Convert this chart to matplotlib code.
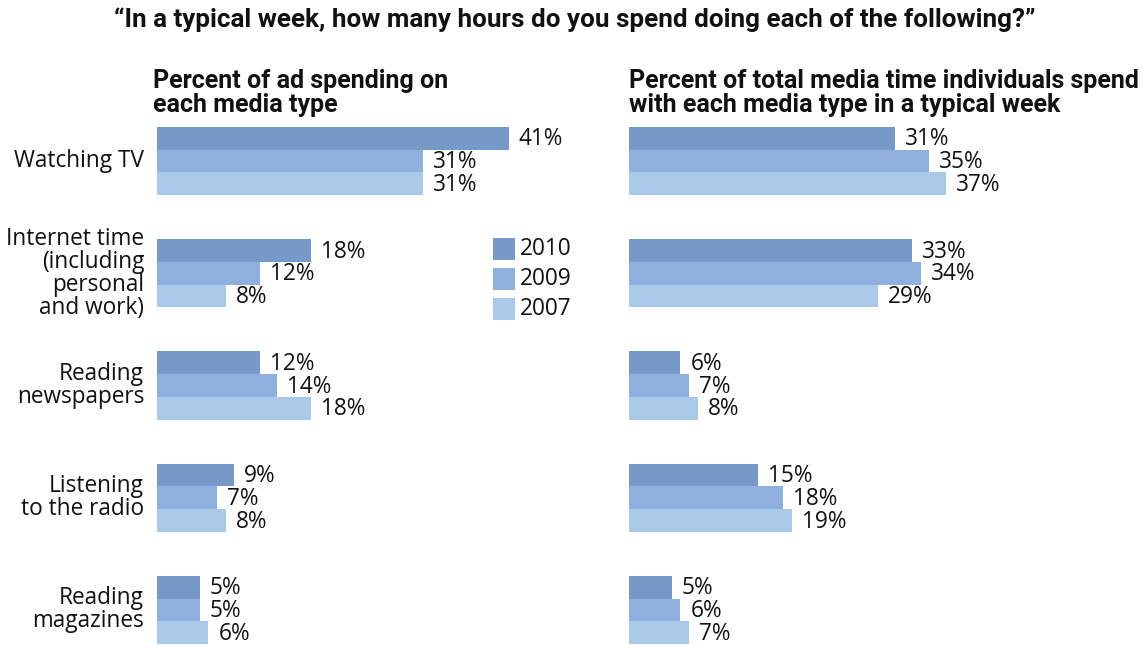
import matplotlib
matplotlib.use("Agg")
import matplotlib.pyplot as plt
from matplotlib.patches import Rectangle

categories = ["Watching TV", "Internet time\n(including\npersonal\nand work)",
              "Reading\nnewspapers", "Listening\nto the radio", "Reading\nmagazines"]
years = ["2010", "2009", "2007"]
ad_spending = {"2010": [41, 18, 12, 9, 5],
               "2009": [31, 12, 14, 7, 5],
               "2007": [31, 8, 18, 8, 6]}
media_time = {"2010": [31, 33, 6, 15, 5],
              "2009": [35, 34, 7, 18, 6],
              "2007": [37, 29, 8, 19, 7]}
colors = {"2010": "#7799c8", "2009": "#8fb0dc", "2007": "#aac8e8"}

plt.rcParams['font.family'] = ['Open Sans', 'DejaVu Sans']
head_font = ['Roboto', 'DejaVu Sans']

W, H = 1143, 645
fig = plt.figure(figsize=(W / 100, H / 100), dpi=100)

h = 0.2023  # bar height in group units
px_per_pct = 8.58
top_px, bot_px = 127, 644
fs = 16.3


def make_ax(x0_px):
    width_px = 50 * px_per_pct
    ax = fig.add_axes([x0_px / W, 1 - bot_px / H, width_px / W, (bot_px - top_px) / H])
    ax.set_xlim(0, 50)
    ax.set_ylim(len(categories) - 1 + 1.5 * h, -1.5 * h)
    ax.axis("off")
    return ax


def draw(ax, data):
    for j, yr in enumerate(years):
        for i, v in enumerate(data[yr]):
            y = i + (j - 1) * h
            ax.barh(y, v, height=h, color=colors[yr], linewidth=0)
            ax.text(v + 1.15, y + 0.01, f"{v}%", va="center", ha="left", fontsize=fs, color="#111111")


ax1 = make_ax(157)
draw(ax1, ad_spending)
for i, c in enumerate(categories):
    ax1.text(-1.5, i, c, ha="right", va="center", fontsize=fs, linespacing=0.95, color="#111111")

ax2 = make_ax(629)
draw(ax2, media_time)

# legend
for k, yr in enumerate(years):
    y = 238 + k * 30
    fig.patches.append(Rectangle((493 / W, 1 - (y + 22) / H), 22 / W, 22 / H,
                                 transform=fig.transFigure, color=colors[yr], linewidth=0))
    fig.text(520 / W, 1 - (y + 11) / H, yr, ha="left", va="center", fontsize=fs, color="#111111")

fig.text(575 / W, 1 - 20 / H,
         "\u201cIn a typical week, how many hours do you spend doing each of the following?\u201d",
         ha="center", va="center", fontsize=18.7, fontweight="bold", family=head_font, color="#111111")
fig.text(153 / W, 1 - 93 / H, "Percent of ad spending on\neach media type",
         ha="left", va="center", fontsize=18, fontweight="bold", family=head_font,
         linespacing=1.0, color="#111111")
fig.text(629 / W, 1 - 93 / H, "Percent of total media time individuals spend\nwith each media type in a typical week",
         ha="left", va="center", fontsize=18, fontweight="bold", family=head_font,
         linespacing=1.0, color="#111111")

fig.savefig("out.png", dpi=100, facecolor="white")
